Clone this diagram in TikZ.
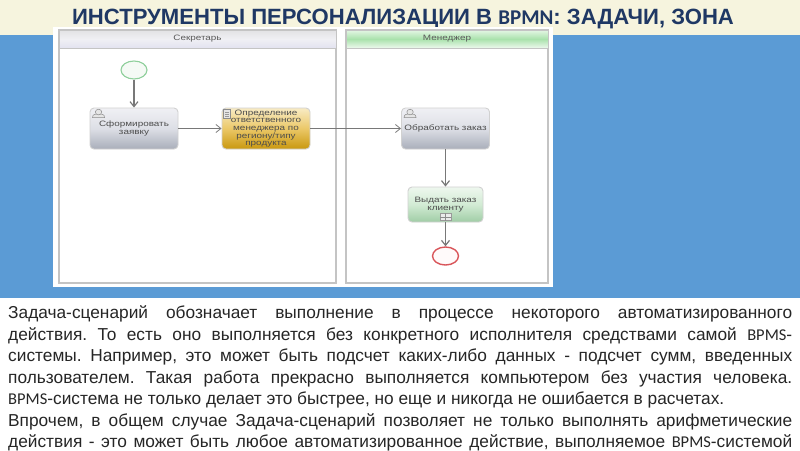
\documentclass[tikz,border=0pt]{standalone}
\usepackage{fontspec}
\setmainfont{Liberation Sans}
\newfontfamily\calib{Carlito}
\newfontfamily\wide[FakeStretch=1.27]{Liberation Sans}
\usetikzlibrary{arrows.meta,shadings,shapes.geometric}
\definecolor{cream}{HTML}{F6F4DE}
\definecolor{slideblue}{HTML}{5B9BD5}
\definecolor{titlecol}{HTML}{1F3864}
\definecolor{bodycol}{HTML}{262626}
\definecolor{lanecol}{HTML}{C4C4C4}
\definecolor{flowcol}{HTML}{787878}
\tikzset{
  x=1pt,y=-1pt,
  lane/.style={draw=lanecol,line width=1.3pt,fill=white},
  lanehead/.style={draw=lanecol,line width=1pt,minimum width=#1,minimum height=18pt,inner sep=0pt,font=\wide\fontsize{7.8}{9}\selectfont,text=black!65},
  taskbase/.style={rounded corners=4pt,draw=black!18,line width=.9pt,minimum height=41pt,inner sep=0pt,align=center,
    font=\wide\fontsize{7.8}{7.7}\selectfont,text=black!70},
  graytask/.style={taskbase,minimum width=88pt,top color=TaskTop,bottom color=TaskBot,middle color=TaskMid},
  goldtask/.style={taskbase,minimum width=88pt,top color=GoldTop,bottom color=GoldBot,middle color=GoldMid},
  greentask/.style={taskbase,minimum width=75pt,minimum height=35pt,top color=GreenTop,bottom color=GreenBot,middle color=GreenMid},
  startev/.style={ellipse,draw=StartCol,line width=1.1pt,fill=GreenTop!60!white,minimum width=26pt,minimum height=18pt,inner sep=0pt},
  endev/.style={ellipse,draw=EndCol,line width=1.4pt,fill=red!2!white,minimum width=26pt,minimum height=18pt,inner sep=0pt},
  flow/.style={draw=flowcol,line width=.8pt,-{Straight Barb[length=5pt,width=8pt]}},
  thickflow/.style={flow,line width=1.2pt},
  icon/.style={draw=black!45,line width=.5pt,fill=white!90!black},
  bodytext/.style={anchor=north west,inner sep=0pt,text width=784pt,align=justify,font=\fontsize{17.3}{21.5}\selectfont\frenchspacing,text=bodycol},
  titletext/.style={inner sep=0pt,font=\fontsize{22.1}{24}\selectfont\bfseries,text=titlecol}
}
\definecolor{TaskTop}{HTML}{F0F0F4}
\definecolor{TaskMid}{HTML}{DDDFE6}
\definecolor{TaskBot}{HTML}{A9AEBA}
\definecolor{GoldTop}{HTML}{F8EBC4}
\definecolor{GoldMid}{HTML}{EBC868}
\definecolor{GoldBot}{HTML}{C9980F}
\definecolor{GreenTop}{HTML}{EEF7EE}
\definecolor{GreenMid}{HTML}{D2EBD4}
\definecolor{GreenBot}{HTML}{A0CDA6}
\definecolor{StartCol}{HTML}{8FCF9B}
\definecolor{EndCol}{HTML}{D9555A}
\definecolor{MgrTop}{HTML}{E4F6E4}
\definecolor{MgrMid}{HTML}{A9E2AC}
\definecolor{MgrBot}{HTML}{EDF8ED}
\definecolor{SecTop}{HTML}{E2E2E4}
\definecolor{SecMid}{HTML}{F0F0F4}
\definecolor{SecBot}{HTML}{E2E2F0}
\newcommand{\bp}{{\calib\fontsize{16.5}{21.5}\selectfont BPMS}}
\begin{document}
\begin{tikzpicture}
\useasboundingbox (0,0) rectangle (800,450);
% slide background
\fill[white] (0,0) rectangle (800,450);
\fill[slideblue] (0,35) rectangle (800,298);
\fill[cream] (0,0) rectangle (800,35);
% white panel
\fill[white] (53,27) rectangle (553,287);
% title
\node[titletext] (title) at (403,18.5) {ИНСТРУМЕНТЫ ПЕРСОНАЛИЗАЦИИ В {\calib\fontsize{21}{24}\selectfont BPMN}: ЗАДАЧИ, ЗОНА};
\fill[white] (53,27) rectangle (553,35);
% lanes
\draw[lane] (59,30) rectangle (336,283);
\draw[lane] (346,30) rectangle (548,283);
\node[lanehead=277pt,top color=SecTop,bottom color=SecBot,middle color=SecMid] (h1) at (197.5,39) {Секретарь};
\node[lanehead=202pt,top color=MgrTop,bottom color=MgrBot,middle color=MgrMid] (h2) at (447,39) {Менеджер};
% events and tasks
\node[startev] (start) at (134,70) {};
\node[graytask] (t1) at (134,128.5) {Сформировать\\заявку};
\node[goldtask] (t2) at (266,128.5) {Определение\\ответственного\\менеджера по\\региону/типу\\продукта};
\node[graytask] (t3) at (445.5,128.5) {Обработать заказ};
\node[greentask] (t4) at (445.5,204.5) {Выдать заказ\\клиенту};
\node[endev] (stop) at (445.5,256) {};
% subprocess marker
\node[draw=black!40,fill=white!92!black,line width=.5pt,minimum width=11pt,minimum height=7pt,inner sep=0pt,anchor=south] (plus) at ([yshift=1.5pt]t4.south) {};
\draw[black!45,line width=.5pt] (plus.north) -- (plus.south) (plus.west) -- (plus.east);
% user icons
\foreach \n in {t1,t3}{
  \draw[icon] ([xshift=3pt,yshift=-10pt]\n.north west) .. controls ([xshift=3pt,yshift=-6pt]\n.north west) and ([xshift=6pt,yshift=-7pt]\n.north west) .. ([xshift=9pt,yshift=-6pt]\n.north west) .. controls ([xshift=12pt,yshift=-7pt]\n.north west) and ([xshift=15pt,yshift=-6pt]\n.north west) .. ([xshift=15pt,yshift=-10pt]\n.north west) -- cycle;
  \draw[icon] ([xshift=9pt,yshift=-4.5pt]\n.north west) ellipse (3.2pt and 2.8pt);
}
% script icon
\draw[icon] ([xshift=2pt,yshift=-2pt]t2.north west) rectangle ([xshift=9pt,yshift=-11pt]t2.north west);
\draw[black!40,line width=.3pt] ([xshift=3.5pt,yshift=-4.5pt]t2.north west) -- ([xshift=7.5pt,yshift=-4.5pt]t2.north west)
  ([xshift=3.5pt,yshift=-6.5pt]t2.north west) -- ([xshift=7.5pt,yshift=-6.5pt]t2.north west)
  ([xshift=3.5pt,yshift=-8.5pt]t2.north west) -- ([xshift=7.5pt,yshift=-8.5pt]t2.north west);
% connectors
\draw[thickflow] (start) -- (t1);
\draw[flow] (t1) -- (t2);
\draw[flow] (t2) -- (t3);
\draw[thickflow] (t3) -- (t4);
\draw[thickflow] (t4) -- (stop);
% body text
\node[bodytext] (body) at (8,305.5) {%
Задача-сценарий обозначает выполнение в процессе некоторого автоматизированного\linebreak
действия. То есть оно выполняется без конкретного исполнителя средствами самой \bp-\linebreak
системы. Например, это может быть подсчет каких-либо данных - подсчет сумм, введенных\linebreak
пользователем. Такая работа прекрасно выполняется компьютером без участия человека.\linebreak
\bp-система не только делает это быстрее, но еще и никогда не ошибается в расчетах.\par
Впрочем, в общем случае Задача-сценарий позволяет не только выполнять арифметические\linebreak
действия - это может быть любое автоматизированное действие, выполняемое \bp-системой\linebreak};
\end{tikzpicture}
\end{document}
